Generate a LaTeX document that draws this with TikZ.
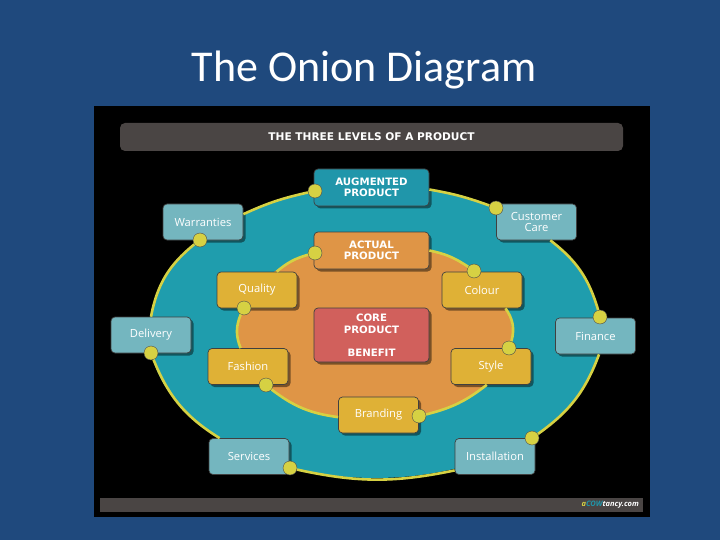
\documentclass[tikz,border=0pt]{standalone}
\usepackage{fontspec}
\setmainfont{Open Sans}
\newfontfamily\titlefont{Carlito}
\newfontfamily\headfont{DejaVu Sans}
\usetikzlibrary{shadows}
\definecolor{slideblue}{HTML}{1F497D}
\definecolor{barcol}{HTML}{4A4544}
\definecolor{tealcol}{HTML}{1F9DAD}
\definecolor{augcol}{HTML}{2096AA}
\definecolor{orangecol}{HTML}{DF9546}
\definecolor{redcol}{HTML}{D1605C}
\definecolor{goldcol}{HTML}{DFB136}
\definecolor{paletealcol}{HTML}{74B6BF}
\definecolor{ringcol}{HTML}{D6D143}
\tikzset{
  levelbox/.style={draw=black!75,line width=0.7pt,rounded corners=4pt,inner sep=0pt,
    minimum width=#1,text=white,align=center,
    drop shadow={shadow xshift=2.5pt,shadow yshift=-2.5pt,fill=black,opacity=.45}},
  outerbox/.style={levelbox=80pt,fill=paletealcol,minimum height=36pt,font=\fontsize{11.2}{11.5}\selectfont},
  innerbox/.style={levelbox=80pt,fill=goldcol,minimum height=36pt,font=\fontsize{11.2}{11.5}\selectfont},
  mainbox/.style={levelbox=115pt,font=\headfont\bfseries\fontsize{10.2}{11.5}\selectfont},
  ringdot/.style={circle,draw=black!70,line width=0.4pt,fill=ringcol,inner sep=0pt,minimum size=14pt},
  ringline/.style={draw=ringcol,line width=2.6pt}
}
\begin{document}
\begin{tikzpicture}[x=1pt,y=-1pt]
  \useasboundingbox (0,0) rectangle (720,540);
  \fill[slideblue] (0,0) rectangle (720,540);
  \node[font=\titlefont\fontsize{44}{48}\selectfont,text=white] (title) at (364,70) {The Onion Diagram};
  \fill[black] (94,106) rectangle (650,517);
  \node[fill=barcol,rounded corners=5pt,minimum width=503pt,minimum height=28pt,inner sep=0pt,text=white,
    font=\headfont\bfseries\fontsize{10.6}{12}\selectfont] (header) at (371.5,137) {THE THREE LEVELS OF A PRODUCT};
  \node[fill=barcol,minimum width=543pt,minimum height=14pt,inner sep=0pt] (footer) at (371.5,505) {};
  \node[anchor=east,inner sep=0pt,font=\fontsize{7.5}{9}\selectfont\bfseries\itshape,text=white] (credit) at (639,505)
    {{\color{ringcol}a}{\color{augcol}COW}tancy.com};
  % the two rings
  \fill[tealcol] (375,332) ellipse [x radius=226,y radius=146];
  \fill[orangecol] (375,332) ellipse [x radius=137,y radius=89];
  % boxes
  \node[mainbox,fill=augcol,minimum height=37pt] (augmented) at (371.5,187.5) {AUGMENTED\\PRODUCT};
  \node[mainbox,fill=orangecol,minimum height=37pt] (actual) at (371.5,250.5) {ACTUAL\\PRODUCT};
  \node[mainbox,fill=redcol,minimum height=54pt] (core) at (371.5,335) {CORE\\PRODUCT\\[11.5pt]BENEFIT};
  \node[outerbox] (warranties) at (203,222) {Warranties};
  \node[outerbox] (care) at (536.5,222) {Customer\\Care};
  \node[outerbox] (delivery) at (151,335) {Delivery};
  \node[outerbox] (finance) at (595.5,336) {Finance};
  \node[outerbox] (services) at (249,456.5) {Services};
  \node[outerbox] (installation) at (495,456.5) {Installation};
  \node[innerbox] (quality) at (257,290) {Quality};
  \node[innerbox] (colour) at (482,290) {Colour};
  \node[innerbox] (fashion) at (248,366.5) {Fashion};
  \node[innerbox] (style) at (491,366.5) {Style};
  \node[innerbox] (branding) at (378.5,415) {Branding};
  % dots
  \node[ringdot] (dotaugmented) at (315,191) {};
  \node[ringdot] (dotwarranties) at (200,240) {};
  \node[ringdot] (dotdelivery) at (151,353) {};
  \node[ringdot] (dotservices) at (290,468) {};
  \node[ringdot] (dotinstallation) at (532,438) {};
  \node[ringdot] (dotfinance) at (600,317) {};
  \node[ringdot] (dotcare) at (496,208) {};
  \node[ringdot] (dotactual) at (315,253) {};
  \node[ringdot] (dotquality) at (244,308) {};
  \node[ringdot] (dotfashion) at (266,385) {};
  \node[ringdot] (dotbranding) at (419,416) {};
  \node[ringdot] (dotstyle) at (509,348) {};
  \node[ringdot] (dotcolour) at (474,271) {};
  % outer ring
  \draw[ringline] (dotaugmented) to[bend right=6] (warranties.11);
  \draw[ringline] (dotwarranties) to[bend right=20] (delivery.north);
  \draw[ringline] (dotdelivery) to[bend right=18] (services.148);
  \draw[ringline] (dotservices) to[bend right=12] (installation.199);
  \draw[ringline] (dotinstallation) to[bend right=17] (finance.-79);
  \draw[ringline] (dotfinance) to[bend right=18] (care.-53);
  \draw[ringline] (dotcare) to[bend right=5] (augmented.-2);
  % inner ring
  \draw[ringline] (dotactual) to[bend right=12] (quality.43);
  \draw[ringline] (dotquality) to[bend right=22] (fashion.112);
  \draw[ringline] (dotfashion) to[bend right=15] (branding.183);
  \draw[ringline] (dotbranding) to[bend right=12] (style.257);
  \draw[ringline] (dotstyle) to[bend right=25] (colour.-38);
  \draw[ringline] (dotcolour) to[bend right=11] (actual.east);
\end{tikzpicture}
\end{document}
